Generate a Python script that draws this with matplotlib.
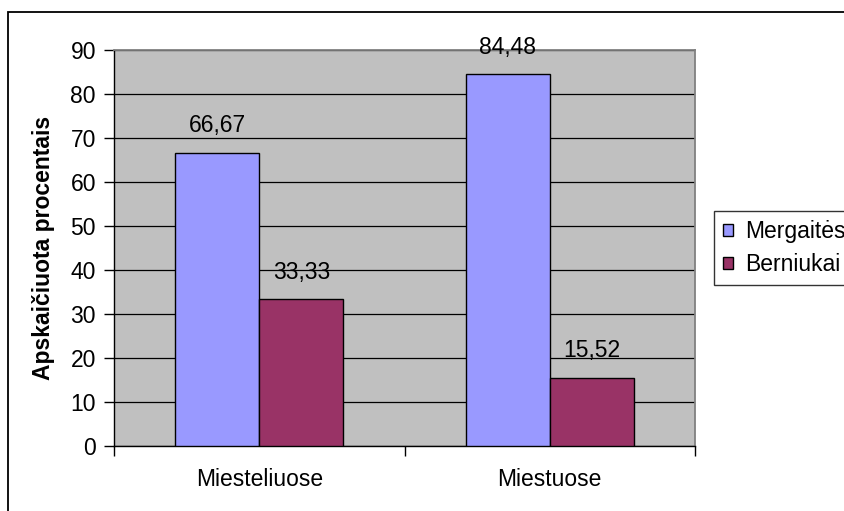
import matplotlib
matplotlib.use("Agg")
import matplotlib.pyplot as plt
from matplotlib.patches import Rectangle, Patch
import numpy as np

categories = ["Miesteliuose", "Miestuose"]
series_names = ["Mergaitės", "Berniukai"]
mergaites = [66.67, 84.48]
berniukai = [33.33, 15.52]
value_labels = [["66,67", "84,48"], ["33,33", "15,52"]]
colors = ["#9999FF", "#993366"]
yticks = [0, 10, 20, 30, 40, 50, 60, 70, 80, 90]

plt.rcParams['font.family'] = ['Liberation Sans', 'DejaVu Sans']
FS = 16.5

W, H = 845, 511
fig = plt.figure(figsize=(W / 100, H / 100), dpi=100)
fig.patch.set_facecolor("white")

# outer chart frame
fig.patches.append(Rectangle((8 / W, -0.05), 1.1, 1 - 12 / H + 0.05,
                             transform=fig.transFigure, fill=False,
                             edgecolor="black", linewidth=1.3))

ax = fig.add_axes([114 / W, (H - 446) / H, (695 - 114) / W, (446 - 50) / H])
ax.set_facecolor("#C0C0C0")

x = np.arange(len(categories))
bw = 0.289
series = [mergaites, berniukai]
for i, vals in enumerate(series):
    pos = x - bw / 2 + i * bw
    bars = ax.bar(pos, vals, width=bw, color=colors[i], edgecolor="black",
                  linewidth=1.0, zorder=3)
    for b, v, lab in zip(bars, vals, value_labels[i]):
        ax.annotate(lab, (b.get_x() + b.get_width() / 2, v),
                    xytext=(0, 11), textcoords="offset points",
                    ha="center", va="bottom", fontsize=FS)

ax.set_xlim(-0.5, len(categories) - 0.5)
ax.set_ylim(0, 90)
ax.set_yticks(yticks)
ax.yaxis.grid(True, color="black", linewidth=0.9, zorder=1)
ax.set_axisbelow(True)

ax.set_xticks(x)
ax.set_xticklabels(categories, fontsize=FS)
ax.set_xticks(np.arange(-0.5, len(categories), 1.0), minor=True)
ax.tick_params(axis="x", which="major", length=0, pad=16)
ax.tick_params(axis="x", which="minor", length=7, width=1, color="black", direction="out")
ax.tick_params(axis="y", length=7, width=1, color="black", direction="out",
               labelsize=FS, pad=6)

for s in ["top", "right"]:
    ax.spines[s].set_color("#808080")
    ax.spines[s].set_linewidth(1.3)
ax.spines["left"].set_color("black")
ax.spines["bottom"].set_color("black")
ax.spines["left"].set_linewidth(1.0)
ax.spines["bottom"].set_linewidth(1.0)

ax.set_ylabel("Apskaičiuota procentais", fontsize=FS, fontweight="bold")
ax.yaxis.set_label_coords(-0.1015, 0.5)

handles = [Patch(facecolor=c, edgecolor="black", linewidth=1.0) for c in colors]
leg = fig.legend(handles, series_names, loc="center left",
                 bbox_to_anchor=(714 / W, (H - 248) / H), fontsize=FS,
                 frameon=True, fancybox=False, edgecolor="black",
                 handlelength=0.45, handleheight=0.45, handletextpad=0.5,
                 borderpad=0.4, labelspacing=0.45, borderaxespad=0)
leg.get_frame().set_linewidth(1.0)

fig.savefig("out.png", dpi=100)
